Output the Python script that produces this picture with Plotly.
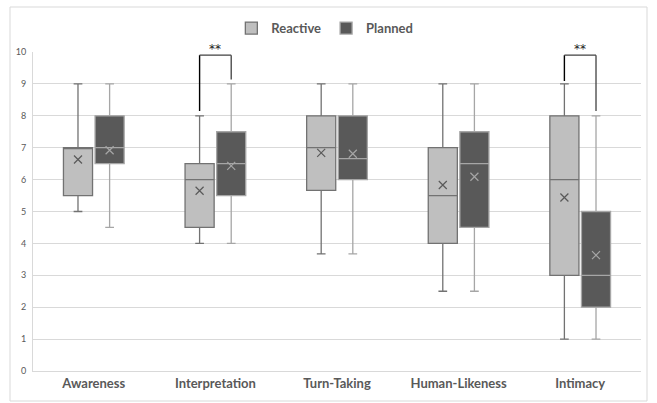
import plotly.graph_objects as go

categories = ["Awareness", "Interpretation", "Turn-Taking", "Human-Likeness", "Intimacy"]

# Reactive
r_min = [5.0, 4.0, 3.67, 2.5, 1.0]
r_q1 = [5.5, 4.5, 5.66, 4.0, 3.0]
r_med = [7.0, 6.0, 7.0, 5.5, 6.0]
r_q3 = [7.0, 6.5, 8.0, 7.0, 8.0]
r_max = [9.0, 8.0, 9.0, 9.0, 9.0]
r_mean = [6.63, 5.65, 6.84, 5.83, 5.44]

# Planned
p_min = [4.5, 4.0, 3.67, 2.5, 1.0]
p_q1 = [6.5, 5.5, 6.0, 4.5, 2.0]
p_med = [7.0, 6.5, 6.66, 6.5, 3.0]
p_q3 = [8.0, 7.5, 8.0, 7.5, 5.0]
p_max = [9.0, 9.0, 9.0, 9.0, 8.0]
p_mean = [6.92, 6.43, 6.81, 6.09, 3.63]

# significance brackets: category, left leg bottom, right leg bottom, bracket top, label
sig_cats = ["Interpretation", "Intimacy"]
sig_left = [8.15, 9.09]
sig_right = [9.14, 8.15]
sig_top = [9.9, 9.9]
sig_text = ["**", "**"]

y_ticks = list(range(0, 11))

TXT = "#595959"
FONT = "Lato"

fig = go.Figure()
fig.add_trace(go.Box(
    name="Reactive", x=categories, q1=r_q1, median=r_med, q3=r_q3,
    lowerfence=r_min, upperfence=r_max, offsetgroup="r",
    fillcolor="#BFBFBF", line=dict(color="#727272", width=1.3),
    whiskerwidth=0.3, boxpoints=False,
))
fig.add_trace(go.Box(
    name="Planned", x=categories, q1=p_q1, median=p_med, q3=p_q3,
    lowerfence=p_min, upperfence=p_max, offsetgroup="p",
    fillcolor="#595959", line=dict(color="#A6A6A6", width=1.3),
    whiskerwidth=0.3, boxpoints=False,
))
fig.add_trace(go.Scatter(
    x=categories, y=r_mean, mode="markers", offsetgroup="r", showlegend=False,
    marker=dict(symbol="x-thin", size=8, line=dict(color="#595959", width=1.2)),
    hoverinfo="skip",
))
fig.add_trace(go.Scatter(
    x=categories, y=p_mean, mode="markers", offsetgroup="p", showlegend=False,
    marker=dict(symbol="x-thin", size=8, line=dict(color="#A6A6A6", width=1.2)),
    hoverinfo="skip",
))

half = 0.13
for c, yl, yr, yt, t in zip(sig_cats, sig_left, sig_right, sig_top, sig_text):
    fig.add_shape(type="line", xref="x", yref="y", x0=c, x1=c, x0shift=-half, x1shift=-half,
                  y0=yl, y1=yt, line=dict(color="#000000", width=1.4))
    fig.add_shape(type="line", xref="x", yref="y", x0=c, x1=c, x0shift=-half, x1shift=half,
                  y0=yt, y1=yt, line=dict(color="#404040", width=1.3))
    fig.add_shape(type="line", xref="x", yref="y", x0=c, x1=c, x0shift=half, x1shift=half,
                  y0=yt, y1=yr, line=dict(color="#404040", width=1.3))
    fig.add_annotation(x=c, y=yt, text=t, showarrow=False, yanchor="bottom", yshift=-3,
                       font=dict(family="DejaVu Sans", size=12, color="#222222"))

# chart frame
fig.add_shape(type="rect", xref="paper", yref="paper",
              x0=-23/608, x1=1 + 6/608, y0=-30/319, y1=1 + 45/319,
              line=dict(color="#D9D9D9", width=1), layer="below")

fig.update_layout(
    width=657, height=403,
    margin=dict(l=33, r=16, t=52, b=32, autoexpand=False),
    paper_bgcolor="white", plot_bgcolor="white",
    boxmode="group", boxgap=0.48, boxgroupgap=0.08,
    scattermode="group", scattergap=0.48,
    font=dict(family=FONT, color=TXT),
    legend=dict(orientation="h", x=0.48, xanchor="center", y=1.075, yanchor="middle",
                font=dict(family=FONT, size=13, color=TXT, weight="bold"),
                itemwidth=30, traceorder="normal", bgcolor="rgba(0,0,0,0)"),
    xaxis=dict(categoryorder="array", categoryarray=categories,
               tickfont=dict(family=FONT, size=13, color=TXT, weight="bold"),
               showline=True, linecolor="#D9D9D9", linewidth=1, ticks="", showgrid=False),
    yaxis=dict(range=[0, 10], tickvals=y_ticks, showgrid=True, gridcolor="#D9D9D9", gridwidth=1,
               tickfont=dict(family=FONT, size=9, color=TXT), zeroline=False,
               showline=True, linecolor="#D9D9D9", linewidth=1, ticks="", ticklabelstandoff=4),
    showlegend=True,
)

fig.write_html("out.html", config={"displayModeBar": False},
               post_script="document.body.style.margin='0';")
